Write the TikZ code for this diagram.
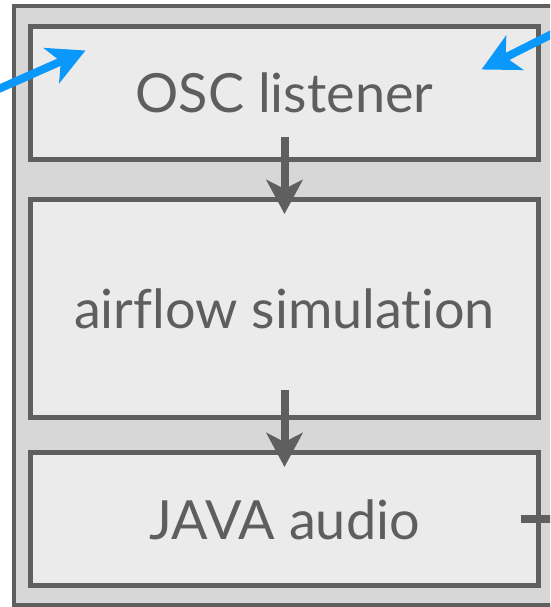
\documentclass[tikz,border=0pt]{standalone}
\usepackage{fontspec}
\setmainfont{Lato}[Ligatures=NoCommon]
\usetikzlibrary{arrows.meta}
\definecolor{framegray}{HTML}{5F5F5F}
\definecolor{bandgray}{HTML}{D7D7D7}
\definecolor{boxgray}{HTML}{EBEBEB}
\definecolor{textgray}{HTML}{5E5E5E}
\definecolor{oscblue}{HTML}{0A98FA}
\tikzset{
  outerframe/.style={draw=framegray, fill=bandgray, line width=4.5pt, inner sep=0pt},
  stagebox/.style={draw=framegray, fill=boxgray, line width=5pt, inner sep=0pt,
    minimum width=508pt, text=textgray, font=\fontsize{54}{62}\selectfont,
    text height=40pt, text depth=0pt},
  flow/.style={draw=framegray, line width=8pt,
    -{Stealth[length=34pt, width=36pt, inset=9pt]}},
  incoming/.style={draw=oscblue, line width=8pt,
    -{Stealth[length=37pt, width=38pt, inset=10pt]}},
  outgoing/.style={draw=framegray, line width=8pt}
}
\begin{document}
\begin{tikzpicture}[x=1pt, y=-1pt]
  \useasboundingbox (0,0) rectangle (550,607);
  \clip (0,0) rectangle (550,607);
  \fill[white] (0,0) rectangle (550,607);
  % enclosing application frame, running off the right edge
  \node[outerframe, minimum width=552pt, minimum height=599pt] (app) at (290,305.5) {};
  % processing stages
  \node[stagebox, minimum height=133pt] (osc) at (284.5,93) {OSC listener};
  \node[stagebox, minimum height=218pt] (air) at (284.5,308.5) {airflow simulation};
  \node[stagebox, minimum height=133pt] (java) at (284.5,519) {JAVA audio};
  % data flow between stages (shifts are in page units, positive upwards)
  \draw[flow] ([yshift=25pt]osc.south) -- ([yshift=-17pt]air.north);
  \draw[flow] ([yshift=30pt]air.south) -- ([yshift=-17pt]java.north);
  % incoming OSC messages
  \coordinate (srcL) at (-6,91);
  \coordinate (srcR) at (558,31);
  \draw[incoming] (srcL) -- ([xshift=57.5pt,yshift=-26.5pt]osc.north west);
  \draw[incoming] (srcR) -- ([xshift=-59.5pt,yshift=-45.5pt]osc.north east);
  % audio output
  \coordinate (sink) at (560,519);
  \draw[outgoing] ([xshift=-20.5pt]java.east) -- (sink);
\end{tikzpicture}
\end{document}
